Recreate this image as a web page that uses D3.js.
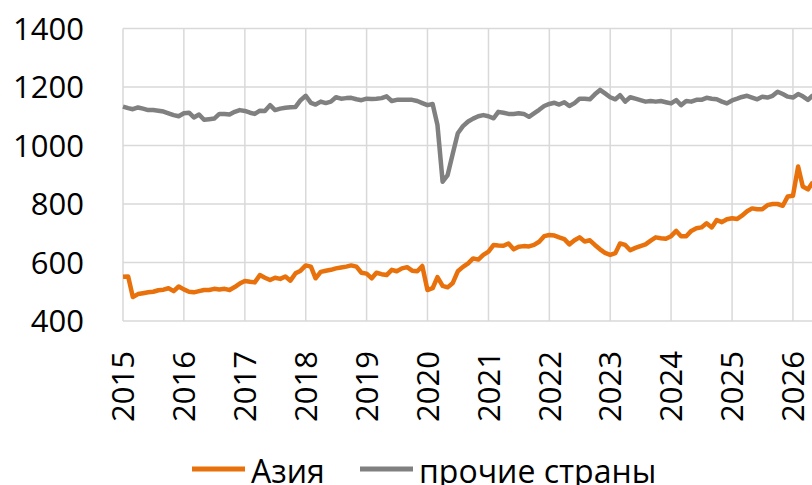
<!DOCTYPE html>
<html>
<head>
<meta charset="utf-8">
<script src="https://cdn.jsdelivr.net/npm/d3@7"></script>
<style>
  body { margin: 0; background: #fff; }
  svg { display: block; font-family: "Open Sans", sans-serif; }
</style>
</head>
<body>
<svg id="chart" width="812" height="485"></svg>
<script>
// monthly series, Jan 2015 .. May 2026
const startMonth = new Date(2015, 0, 1);

const asia = [
  551, 552, 482, 492, 495, 498, 500, 505, 507, 512, 502, 518,
  508, 500, 498, 502, 506, 506, 510, 508, 510, 506, 516, 528,
  537, 534, 532, 557, 548, 540, 548, 544, 552, 538, 563, 572,
  590, 586, 546, 568, 572, 575, 580, 583, 586, 590, 586, 565,
  562, 546, 565, 560, 557, 575, 570, 580, 584, 572, 570, 588,
  506, 512, 550, 520, 515, 530, 570, 585, 597, 614, 610, 626,
  637, 660, 658, 657, 665, 645, 654, 656, 655, 660, 671, 690,
  694, 692, 686, 680, 662, 676, 686, 672, 676, 660, 645, 633,
  626, 632, 665, 660, 642, 650, 656, 662, 675, 686, 683, 681,
  690, 708, 690, 690, 708, 717, 720, 734, 720, 745, 738, 748,
  751, 749, 760, 775, 785, 782, 782, 796, 800, 800, 794, 826,
  828, 928, 860, 850, 875
];

const others = [
  1133, 1128, 1124, 1130, 1126, 1121, 1121, 1119, 1116, 1110, 1104, 1100,
  1110, 1112, 1096, 1106, 1088, 1090, 1092, 1108, 1108, 1106, 1115, 1121,
  1118, 1112, 1108, 1119, 1118, 1138, 1121, 1126, 1129, 1131, 1132, 1155,
  1170, 1146, 1140, 1150, 1145, 1150, 1165, 1160, 1162, 1163, 1158, 1155,
  1160, 1159, 1160, 1162, 1168, 1152, 1156, 1156, 1156, 1156, 1152, 1145,
  1138, 1142, 1070, 876, 899, 973, 1042, 1066, 1082, 1092, 1100, 1104,
  1100, 1093, 1115, 1112, 1108, 1108, 1110, 1108, 1098, 1110, 1122, 1135,
  1142, 1146, 1140, 1148, 1135, 1145, 1160, 1160, 1158, 1175, 1190, 1178,
  1165, 1158, 1172, 1150, 1165, 1160, 1155, 1150, 1152, 1150, 1152, 1148,
  1144, 1155, 1138, 1152, 1150, 1156, 1156, 1163, 1160, 1158, 1150, 1144,
  1154, 1160, 1166, 1170, 1164, 1158, 1167, 1164, 1170, 1184, 1176, 1167,
  1164, 1176, 1168, 1156, 1172
];

const seriesNames = ["Азия", "прочие страны"];
const seriesColors = ["#E8710C", "#808080"];
const yTicks = [400, 600, 800, 1000, 1200, 1400];
const yearTicks = d3.range(2015, 2027);

const svg = d3.select('#chart');
const plotLeft = 123, plotTop = 28.5, plotBottom = 321;
const pxPerYear = 60.9;

const x = d3.scaleTime()
  .domain([new Date(2015, 0, 1), new Date(2027, 0, 1)])
  .range([plotLeft, plotLeft + 12 * pxPerYear]);
const y = d3.scaleLinear().domain([400, 1400]).range([plotBottom, plotTop]);

const months = asia.map((d, i) => d3.timeMonth.offset(startMonth, i));

const grid = svg.append('g');
grid.selectAll('line.h').data(yTicks).enter().append('line')
  .attr('x1', plotLeft).attr('x2', 812)
  .attr('y1', d => y(d)).attr('y2', d => y(d))
  .style('stroke', '#D9D9D9').style('stroke-width', 1.5);
grid.selectAll('line.v').data(yearTicks).enter().append('line')
  .attr('x1', d => x(new Date(d, 0, 1))).attr('x2', d => x(new Date(d, 0, 1)))
  .attr('y1', plotTop).attr('y2', plotBottom)
  .style('stroke', '#D9D9D9').style('stroke-width', 1.5);

// y labels
svg.append('g').selectAll('text').data(yTicks).enter().append('text')
  .attr('x', 84).attr('y', d => y(d))
  .attr('dy', '0.36em')
  .attr('text-anchor', 'end')
  .style('font-size', '31px').style('fill', '#000')
  .text(d => d);

// x labels, rotated
svg.append('g').selectAll('text').data(yearTicks).enter().append('text')
  .attr('transform', d => `translate(${x(new Date(d, 0, 1))},351) rotate(-90)`)
  .attr('dy', '0.36em')
  .attr('text-anchor', 'end')
  .style('font-size', '31px').style('fill', '#000')
  .text(d => d);

const line = d3.line()
  .x((d, i) => x(months[i]))
  .y(d => y(d));

[others, asia].forEach((s, k) => {
  svg.append('path')
    .datum(s)
    .attr('d', line)
    .style('fill', 'none')
    .style('stroke', k === 0 ? seriesColors[1] : seriesColors[0])
    .style('stroke-width', 4.5)
    .style('stroke-linejoin', 'round');
});

// legend (bottom of the text sits on the picture edge, like the original)
const legend = svg.append('g');
const legendX = [192, 360];
seriesNames.forEach((name, i) => {
  legend.append('line')
    .attr('x1', legendX[i]).attr('x2', legendX[i] + 53)
    .attr('y1', 469).attr('y2', 469)
    .style('stroke', seriesColors[i]).style('stroke-width', 5);
  legend.append('text')
    .attr('x', legendX[i] + 59).attr('y', 483)
    .style('font-size', '32px').style('fill', '#000')
    .text(name);
});
</script>
</body>
</html>
